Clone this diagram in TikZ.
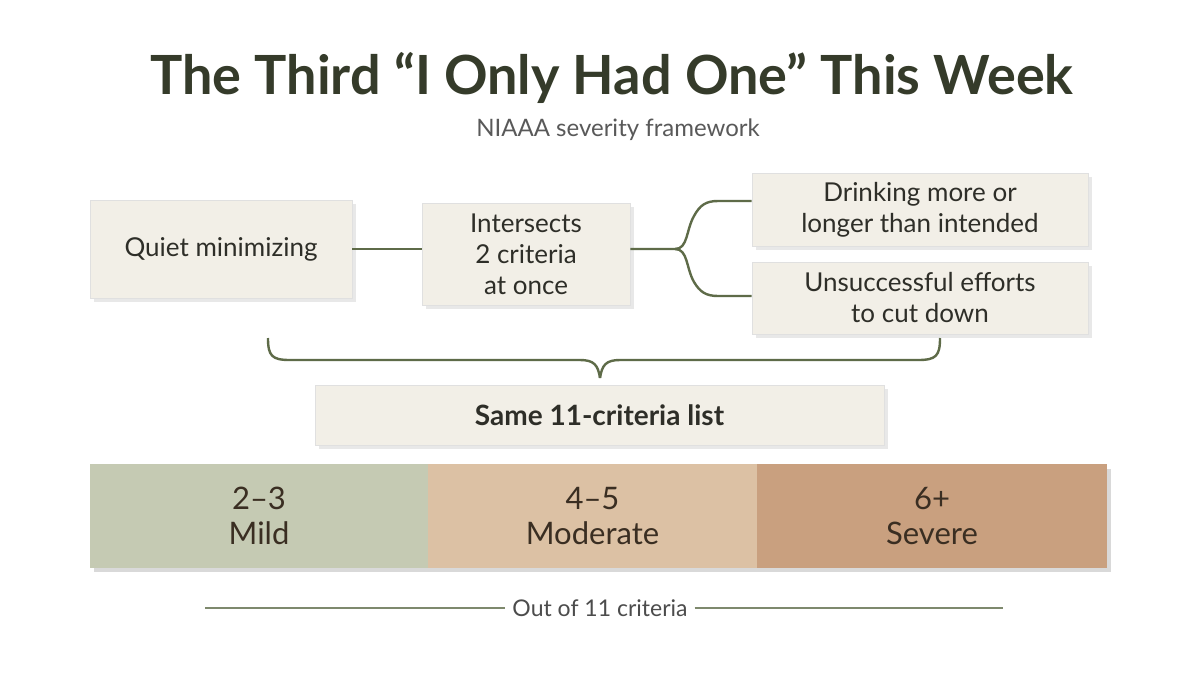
\documentclass[tikz,border=0pt]{standalone}
\usepackage{fontspec}
\usetikzlibrary{shadows}
\setmainfont{Lato}
\begin{document}
\begin{tikzpicture}[x=0.5pt,y=-0.5pt,
  card/.style={draw=black!12,fill=cardc,drop shadow={shadow xshift=2pt,shadow yshift=-2pt,opacity=0.18},align=center,inner sep=0pt,text=txt,font=\fontsize{13}{15.5}\selectfont},
  conn/.style={draw=linec,line width=1.2pt},
  seg/.style={draw=none,align=center,inner sep=0pt,text=segtxt,font=\fontsize{15.5}{17.5}\selectfont}]
\definecolor{cardc}{HTML}{F2EFE7}
\definecolor{txt}{HTML}{2E2E28}
\definecolor{linec}{HTML}{5E6B48}
\definecolor{titlec}{HTML}{353B2A}
\definecolor{segtxt}{HTML}{3A2E22}
\definecolor{gr}{HTML}{C5CAB3}
\definecolor{be}{HTML}{DCC1A4}
\definecolor{br}{HTML}{C9A07F}
\useasboundingbox[fill=white] (0,0) rectangle (1200,675);
\node[text=titlec,font=\fontsize{27}{31}\selectfont\bfseries] (title) at (612,78) {The Third “I Only Had One” This Week};
\node[text=black!65,font=\fontsize{12}{14}\selectfont] (sub) at (618,130) {NIAAA severity framework};
\node[card,minimum width=131pt,minimum height=49pt] (q) at (221,249) {Quiet minimizing};
\node[card,minimum width=104pt,minimum height=51pt] (i) at (526,254) {Intersects\\2 criteria\\at once};
\node[card,minimum width=168pt,minimum height=36.5pt] (d) at (920,209.5) {Drinking more or\\longer than intended};
\node[card,minimum width=168pt,minimum height=36pt] (u) at (920,298) {Unsuccessful efforts\\to cut down};
\draw[conn] (q.east) -- (q.east -| i.west);
\coordinate (tip) at (675,249);
\draw[conn] (i.east|-tip) -- (tip) .. controls (688,249) and (686,230) .. (694,216) .. controls (700,205) and (706,201) .. (718,201) -- (d.west|-0,201);
\draw[conn] (tip) .. controls (688,249) and (686,268) .. (694,282) .. controls (700,292) and (706,296) .. (718,296) -- (u.west|-0,296);
\node[card,minimum width=284.5pt,minimum height=30pt,font=\fontsize{14}{16}\selectfont\bfseries] (s) at (599.5,415) {Same 11-criteria list};
\coordinate (bl) at (268,338); \coordinate (br) at (940,338); \coordinate (bt) at (600,378);
\draw[conn] (bl) .. controls (268,356) and (272,360) .. (290,360) -- (580,360) .. controls (594,360) and (598,365) .. (bt);
\draw[conn] (br) .. controls (940,356) and (936,360) .. (918,360) -- (620,360) .. controls (606,360) and (602,365) .. (bt);
\fill[black,opacity=0.15] (94,469) rectangle (1111,572);
\node[seg,fill=gr,minimum width=169pt,minimum height=52pt] (m1) at (259,516) {2–3\\Mild};
\node[seg,fill=be,minimum width=164.5pt,minimum height=52pt] (m2) at (592.5,516) {4–5\\Moderate};
\node[seg,fill=br,minimum width=175pt,minimum height=52pt] (m3) at (932,516) {6+\\Severe};
\node[text=black!70,font=\fontsize{11.5}{13}\selectfont] (o) at (600,608) {Out of 11 criteria};
\coordinate (l1) at (205,608); \coordinate (l2) at (1003,608);
\draw[draw=linec!80,line width=0.8pt] (l1) -- (o.west);
\draw[draw=linec!80,line width=0.8pt] (o.east) -- (l2);
\end{tikzpicture}
\end{document}
